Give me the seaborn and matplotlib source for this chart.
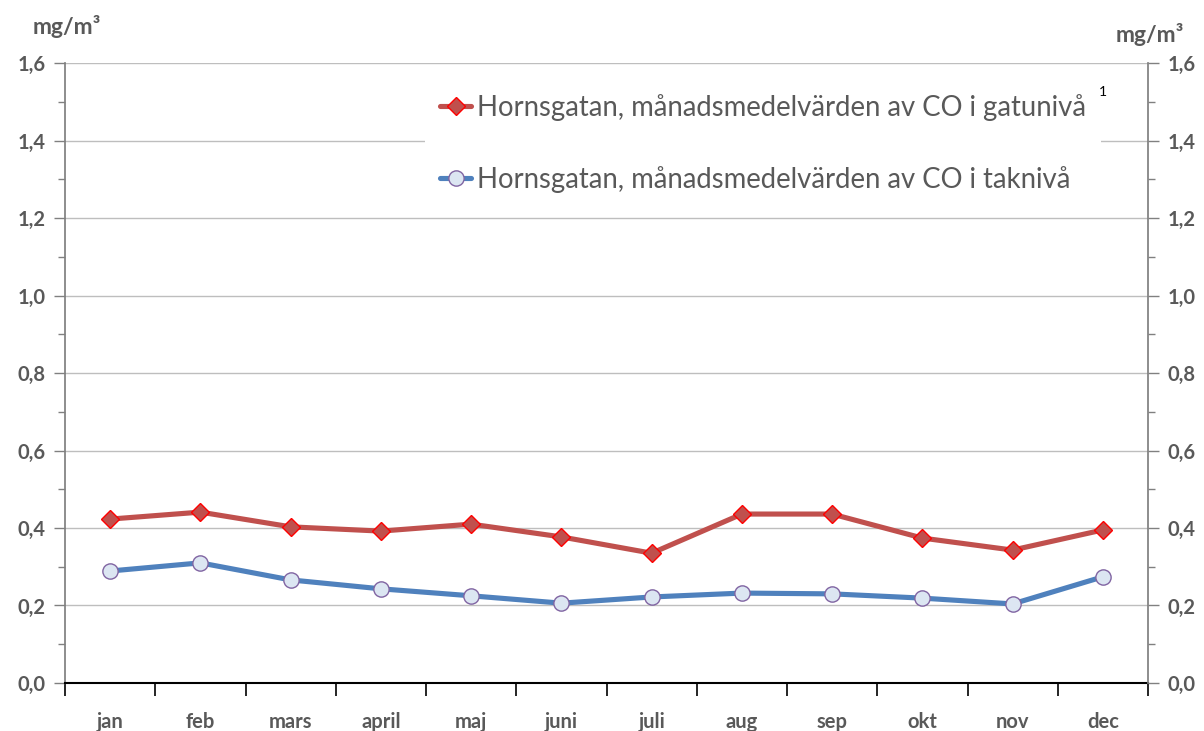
import matplotlib
matplotlib.use("Agg")
import matplotlib.pyplot as plt
import seaborn as sns
import numpy as np
import pandas as pd
from matplotlib.ticker import MultipleLocator, FixedLocator

months = ["jan", "feb", "mars", "april", "maj", "juni", "juli", "aug", "sep", "okt", "nov", "dec"]
gatuniva = [0.423, 0.441, 0.403, 0.392, 0.410, 0.377, 0.335, 0.436, 0.436, 0.374, 0.343, 0.395]
takniva = [0.289, 0.310, 0.266, 0.243, 0.225, 0.206, 0.222, 0.232, 0.230, 0.219, 0.204, 0.274]

label_gata = "Hornsgatan, månadsmedelvärden av CO i gatunivå"
label_tak = "Hornsgatan, månadsmedelvärden av CO i taknivå"

df = pd.DataFrame({"month": months, "gata": gatuniva, "tak": takniva})

sns.set_theme(style="white")
plt.rcParams['font.family'] = ['Lato', 'DejaVu Sans']
grey = "#595959"

fig = plt.figure(figsize=(12.04, 7.31), dpi=100)
ax = fig.add_axes([0.054, 0.0657, 0.8995, 0.848])

sns.lineplot(data=df, x="month", y="gata", ax=ax, color="#C0504D", linewidth=3.7,
             marker="D", markersize=9, markerfacecolor="#C0504D", markeredgecolor="#FF0000",
             markeredgewidth=1, label=label_gata, zorder=3)
sns.lineplot(data=df, x="month", y="tak", ax=ax, color="#4F81BD", linewidth=3.7,
             marker="o", markersize=11, markerfacecolor="#DCE6F2", markeredgecolor="#8064A2",
             markeredgewidth=1, label=label_tak, zorder=3)

ax.set_xlim(-0.5, 11.5)
ax.set_ylim(0, 1.6)
ax.set_xlabel("")
ax.set_ylabel("")

# y axis ticks and grid
ax.yaxis.set_major_locator(MultipleLocator(0.2))
ax.yaxis.set_minor_locator(MultipleLocator(0.1))
ax.yaxis.grid(True, which="major", color="#BEBEBE", linewidth=1)
ax.set_axisbelow(True)
ax.set_yticklabels([f"{v:.1f}".replace(".", ",") for v in ax.get_yticks()])
ax.tick_params(axis="y", which="major", direction="out", length=8, width=1, color="#808080",
               labelsize=14.5, labelcolor=grey, pad=6)
ax.tick_params(axis="y", which="minor", direction="out", length=5, width=1, color="#808080", left=True)
for t in ax.get_yticklabels():
    t.set_fontweight("bold")

# x ticks between categories
ax.xaxis.set_minor_locator(FixedLocator(np.arange(-0.5, 12, 1)))
ax.tick_params(axis="x", which="major", length=0, labelsize=14.5, labelcolor=grey, pad=21)
ax.tick_params(axis="x", which="minor", direction="out", length=9, width=1.2, color="black", bottom=True)
for t in ax.get_xticklabels():
    t.set_fontweight("bold")

for side in ["top", "right"]:
    ax.spines[side].set_visible(False)
ax.spines["left"].set_color("#808080")
ax.spines["bottom"].set_color("black")
ax.spines["bottom"].set_linewidth(1.5)

# right axis duplicate
ax2 = ax.twinx()
ax2.set_ylim(0, 1.6)
ax2.yaxis.set_major_locator(MultipleLocator(0.2))
ax2.yaxis.set_minor_locator(MultipleLocator(0.1))
ax2.set_yticklabels([f"{v:.1f}".replace(".", ",") for v in ax2.get_yticks()])
ax2.tick_params(axis="y", which="major", direction="out", length=8, width=1, color="#808080",
                labelsize=14.5, labelcolor=grey, pad=6)
ax2.tick_params(axis="y", which="minor", direction="out", length=5, width=1, color="#808080", right=True)
for t in ax2.get_yticklabels():
    t.set_fontweight("bold")
for side in ["top", "left", "bottom"]:
    ax2.spines[side].set_visible(False)
ax2.spines["right"].set_color("#808080")
ax2.grid(False)

leg = ax.legend(loc="upper left", bbox_to_anchor=(0.332, 0.975), fontsize=19.8, frameon=True,
                facecolor="white", edgecolor="none", framealpha=1, handlelength=1.15,
                handletextpad=0.2, labelspacing=1.65, borderpad=0.55, borderaxespad=0)
for txt in leg.get_texts():
    txt.set_color(grey)

fig.text(0.913, 0.868, "1", fontsize=10, color="black")
fig.text(0.027, 0.953, "mg/m³", fontsize=16.5, fontweight="bold", color=grey)
fig.text(0.927, 0.943, "mg/m³", fontsize=16.5, fontweight="bold", color=grey)

fig.savefig("out.png", dpi=100)
